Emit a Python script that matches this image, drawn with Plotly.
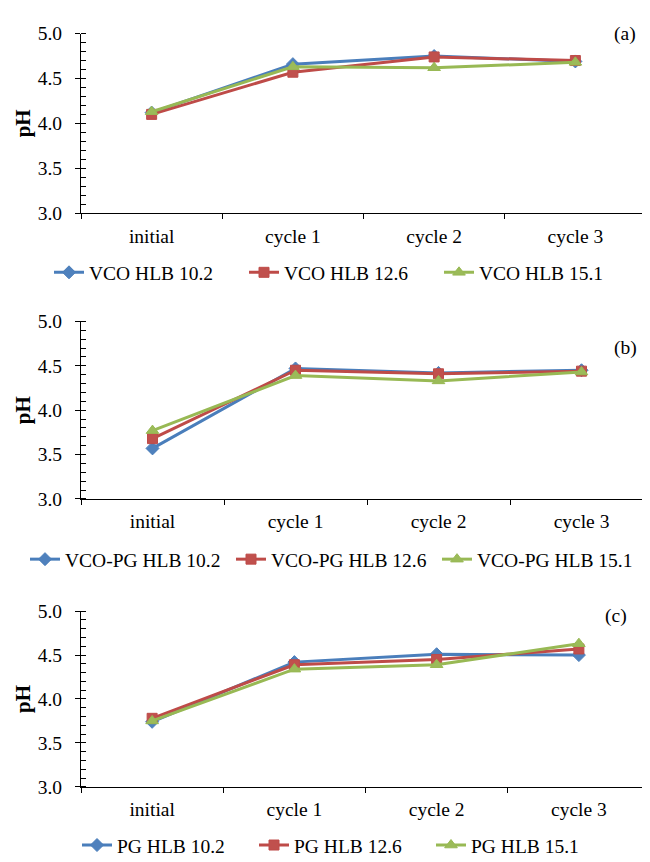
import plotly.graph_objects as go

categories = ["initial", "cycle 1", "cycle 2", "cycle 3"]

vco_names = ["VCO HLB 10.2", "VCO HLB 12.6", "VCO HLB 15.1"]
vco_102 = [4.12, 4.66, 4.75, 4.69]
vco_126 = [4.10, 4.57, 4.74, 4.70]
vco_151 = [4.13, 4.63, 4.62, 4.68]

vcopg_names = ["VCO-PG HLB 10.2", "VCO-PG HLB 12.6", "VCO-PG HLB 15.1"]
vcopg_102 = [3.57, 4.47, 4.42, 4.45]
vcopg_126 = [3.68, 4.45, 4.41, 4.44]
vcopg_151 = [3.77, 4.39, 4.33, 4.43]

pg_names = ["PG HLB 10.2", "PG HLB 12.6", "PG HLB 15.1"]
pg_102 = [3.74, 4.42, 4.51, 4.50]
pg_126 = [3.78, 4.39, 4.45, 4.57]
pg_151 = [3.75, 4.34, 4.39, 4.63]

panel_labels = ["(a)", "(b)", "(c)"]
y_ticks = [3.0, 3.5, 4.0, 4.5, 5.0]

W, H = 650, 862
FONT = "Liberation Serif, Times New Roman, serif"
FS = 19.5
line_colors = ["#4A7EBB", "#BE4B48", "#98B954"]
fill_colors = ["#4F81BD", "#C0504D", "#9BBB59"]
symbols = ["diamond", "square", "triangle-up"]
msize = [10, 10, 11]

panels = [
    dict(names=vco_names, series=[vco_102, vco_126, vco_151],
         top=16, bottom=200, left=73, right=638, leg_y=261, leg_x=41, entry=150, lab_x=617, lab_y=16),
    dict(names=vcopg_names, series=[vcopg_102, vcopg_126, vcopg_151],
         top=311, bottom=493, left=73, right=645, leg_y=555, leg_x=17, entry=161, lab_x=617, lab_y=338),
    dict(names=pg_names, series=[pg_102, pg_126, pg_151],
         top=608, bottom=788, left=73, right=642, leg_y=848, leg_x=69, entry=132, lab_x=608, lab_y=613),
]

fig = go.Figure()
annotations = []
layout = {}
for i, p in enumerate(panels):
    k = "" if i == 0 else str(i + 1)
    ko = str(i + 4)
    leg = "legend" if i == 0 else f"legend{i + 1}"
    for j in range(3):
        fig.add_trace(go.Scatter(
            x=categories, y=p["series"][j], name=p["names"][j],
            mode="lines+markers", xaxis=f"x{k}", yaxis=f"y{k}", legend=leg,
            line=dict(color=line_colors[j], width=3),
            marker=dict(symbol=symbols[j], size=msize[j], color=fill_colors[j],
                        line=dict(color=line_colors[j], width=1)),
        ))
    # invisible trace to carry overlay axis (inside half of crossing major ticks)
    fig.add_trace(go.Scatter(x=[categories[0]], y=[None], xaxis=f"x{k}", yaxis=f"y{ko}",
                             showlegend=False, hoverinfo="skip", mode="markers"))
    xd = [p["left"] / W, p["right"] / W]
    yd = [1 - p["bottom"] / H, 1 - p["top"] / H]
    layout[f"xaxis{k}"] = dict(
        domain=xd, anchor=f"y{k}", type="category", range=[-0.5, 3.5],
        showline=True, linecolor="black", linewidth=1, showgrid=False, zeroline=False,
        ticks="outside", ticklen=5, tickcolor="black", tickson="boundaries",
        tickfont=dict(family=FONT, size=FS, color="black"), ticklabelstandoff=5,
    )
    layout[f"yaxis{k}"] = dict(
        domain=yd, anchor=f"x{k}", range=[3.0, 5.0], tickvals=y_ticks, tickformat=".1f",
        showline=True, linecolor="black", linewidth=1, showgrid=False, zeroline=False,
        ticks="outside", ticklen=5, tickcolor="black",
        minor=dict(dtick=0.1, tick0=3.0, ticks="inside", ticklen=5, tickcolor="black", showgrid=False),
        tickfont=dict(family=FONT, size=FS, color="black"), ticklabelstandoff=9,
    )
    layout[f"yaxis{ko}"] = dict(
        overlaying=f"y{k}", anchor=f"x{k}", side="left", range=[3.0, 5.0], tickvals=y_ticks,
        showline=False, showgrid=False, zeroline=False, showticklabels=False,
        ticks="inside", ticklen=5, tickcolor="black",
    )
    layout[leg] = dict(
        orientation="h", x=p["leg_x"] / W, xanchor="left", y=1 - p["leg_y"] / H, yanchor="middle",
        font=dict(family=FONT, size=FS, color="black"), entrywidth=p["entry"], entrywidthmode="pixels",
        bgcolor="rgba(0,0,0,0)", itemclick=False, tracegroupgap=0,
    )
    annotations.append(dict(
        text=panel_labels[i], x=p["lab_x"] / W, y=1 - p["lab_y"] / H, xref="paper", yref="paper",
        xanchor="center", yanchor="middle", showarrow=False,
        font=dict(family=FONT, size=FS, color="black"),
    ))
    annotations.append(dict(
        text="<b>pH</b>", x=15 / W, y=1 - (p["top"] + p["bottom"]) / 2 / H, xref="paper", yref="paper",
        xanchor="center", yanchor="middle", showarrow=False, textangle=-90,
        font=dict(family=FONT, size=21, color="black"),
    ))

fig.update_layout(
    width=W, height=H, margin=dict(l=0, r=0, t=0, b=0),
    paper_bgcolor="white", plot_bgcolor="white",
    annotations=annotations, **layout,
)

fig.write_html("out.html")
